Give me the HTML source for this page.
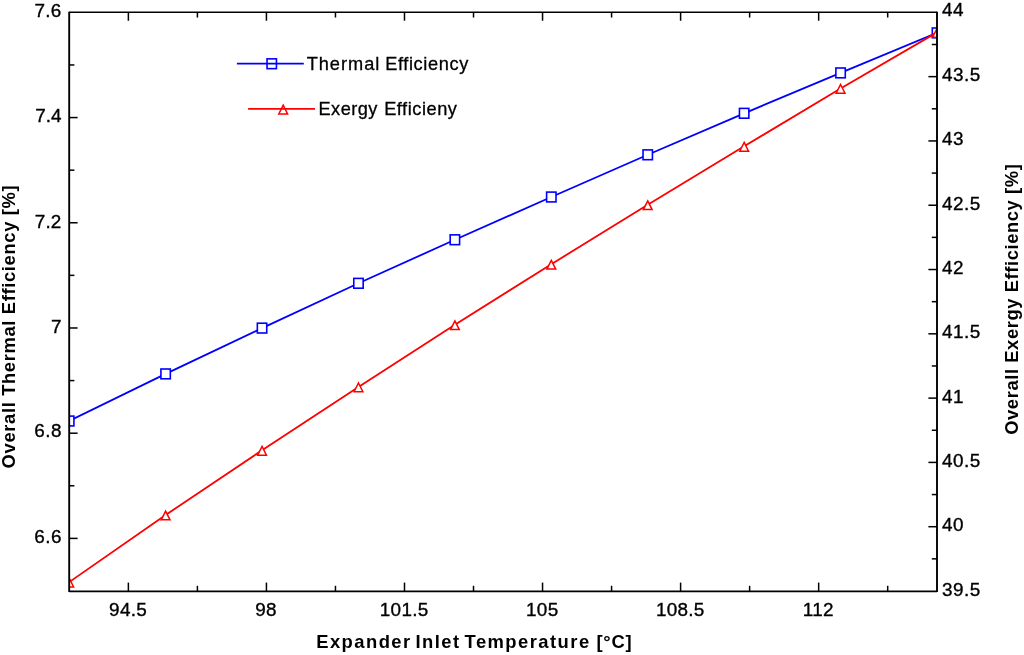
<!DOCTYPE html>
<html><head><meta charset="utf-8"><title>Efficiency chart</title>
<style>
html,body{margin:0;padding:0;background:#fff;}
body{width:1024px;height:655px;overflow:hidden;}
svg{display:block;}
text{font-family:"Liberation Sans",sans-serif;fill:#000;}
.tk{font-size:18.9px;stroke:#000;stroke-width:0.35px;}
.ax{font-size:18.4px;font-weight:bold;}
.lg{font-size:18.2px;stroke:#000;stroke-width:0.3px;}
</style></head><body>
<svg width="1024" height="655" viewBox="0 0 1024 655">
<rect width="1024" height="655" fill="#fff"/>
<defs><clipPath id="cp"><rect x="69.2" y="12.35" width="867.8" height="578.65"/></clipPath></defs>

<g clip-path="url(#cp)">
<polyline fill="none" stroke="#0000ff" stroke-width="1.8" points="69.20,421.00 165.62,373.90 262.04,328.10 358.47,283.30 454.89,239.75 551.31,197.00 647.73,154.80 744.16,113.30 840.58,72.90 937.00,32.90"/>
<rect x="64.50" y="416.10" width="9.4" height="9.8" fill="#fff" stroke="#0000ff" stroke-width="1.6"/>
<rect x="160.92" y="369.00" width="9.4" height="9.8" fill="#fff" stroke="#0000ff" stroke-width="1.6"/>
<rect x="257.34" y="323.20" width="9.4" height="9.8" fill="#fff" stroke="#0000ff" stroke-width="1.6"/>
<rect x="353.77" y="278.40" width="9.4" height="9.8" fill="#fff" stroke="#0000ff" stroke-width="1.6"/>
<rect x="450.19" y="234.85" width="9.4" height="9.8" fill="#fff" stroke="#0000ff" stroke-width="1.6"/>
<rect x="546.61" y="192.10" width="9.4" height="9.8" fill="#fff" stroke="#0000ff" stroke-width="1.6"/>
<rect x="643.03" y="149.90" width="9.4" height="9.8" fill="#fff" stroke="#0000ff" stroke-width="1.6"/>
<rect x="739.46" y="108.40" width="9.4" height="9.8" fill="#fff" stroke="#0000ff" stroke-width="1.6"/>
<rect x="835.88" y="68.00" width="9.4" height="9.8" fill="#fff" stroke="#0000ff" stroke-width="1.6"/>
<rect x="932.30" y="28.00" width="9.4" height="9.8" fill="#fff" stroke="#0000ff" stroke-width="1.6"/>
<polyline fill="none" stroke="#ff0000" stroke-width="1.8" points="69.20,582.10 165.62,515.00 262.04,450.30 358.47,386.90 454.89,324.70 551.31,264.20 647.73,204.70 744.16,146.30 840.58,88.40 937.00,32.40"/>
<path d="M69.20 578.20 L73.60 586.95 L64.80 586.95 Z" fill="#fff" stroke="#ff0000" stroke-width="1.5" stroke-linejoin="miter" stroke-miterlimit="10"/>
<path d="M165.62 511.10 L170.02 519.85 L161.22 519.85 Z" fill="#fff" stroke="#ff0000" stroke-width="1.5" stroke-linejoin="miter" stroke-miterlimit="10"/>
<path d="M262.04 446.40 L266.44 455.15 L257.64 455.15 Z" fill="#fff" stroke="#ff0000" stroke-width="1.5" stroke-linejoin="miter" stroke-miterlimit="10"/>
<path d="M358.47 383.00 L362.87 391.75 L354.07 391.75 Z" fill="#fff" stroke="#ff0000" stroke-width="1.5" stroke-linejoin="miter" stroke-miterlimit="10"/>
<path d="M454.89 320.80 L459.29 329.55 L450.49 329.55 Z" fill="#fff" stroke="#ff0000" stroke-width="1.5" stroke-linejoin="miter" stroke-miterlimit="10"/>
<path d="M551.31 260.30 L555.71 269.05 L546.91 269.05 Z" fill="#fff" stroke="#ff0000" stroke-width="1.5" stroke-linejoin="miter" stroke-miterlimit="10"/>
<path d="M647.73 200.80 L652.13 209.55 L643.33 209.55 Z" fill="#fff" stroke="#ff0000" stroke-width="1.5" stroke-linejoin="miter" stroke-miterlimit="10"/>
<path d="M744.16 142.40 L748.56 151.15 L739.76 151.15 Z" fill="#fff" stroke="#ff0000" stroke-width="1.5" stroke-linejoin="miter" stroke-miterlimit="10"/>
<path d="M840.58 84.50 L844.98 93.25 L836.18 93.25 Z" fill="#fff" stroke="#ff0000" stroke-width="1.5" stroke-linejoin="miter" stroke-miterlimit="10"/>
<path d="M937.00 28.50 L941.40 37.25 L932.60 37.25 Z" fill="#fff" stroke="#ff0000" stroke-width="1.5" stroke-linejoin="miter" stroke-miterlimit="10"/>
</g>
<g stroke="#000" fill="none">
<line x1="69.2" y1="11.65" x2="69.2" y2="591.9" stroke-width="1.9"/>
<line x1="937" y1="11.65" x2="937" y2="591.9" stroke-width="1.9"/>
<line x1="69.2" y1="12.35" x2="937" y2="12.35" stroke-width="1.5"/>
<line x1="69.2" y1="591.3" x2="937" y2="591.3" stroke-width="1.7"/>
<line x1="128.37" y1="591" x2="128.37" y2="582.6" stroke-width="1.5"/>
<line x1="128.37" y1="12.35" x2="128.37" y2="20.75" stroke-width="1.5"/>
<line x1="197.40" y1="591" x2="197.40" y2="585.8" stroke-width="1.5"/>
<line x1="197.40" y1="12.35" x2="197.40" y2="17.55" stroke-width="1.5"/>
<line x1="266.43" y1="591" x2="266.43" y2="582.6" stroke-width="1.5"/>
<line x1="266.43" y1="12.35" x2="266.43" y2="20.75" stroke-width="1.5"/>
<line x1="335.46" y1="591" x2="335.46" y2="585.8" stroke-width="1.5"/>
<line x1="335.46" y1="12.35" x2="335.46" y2="17.55" stroke-width="1.5"/>
<line x1="404.49" y1="591" x2="404.49" y2="582.6" stroke-width="1.5"/>
<line x1="404.49" y1="12.35" x2="404.49" y2="20.75" stroke-width="1.5"/>
<line x1="473.52" y1="591" x2="473.52" y2="585.8" stroke-width="1.5"/>
<line x1="473.52" y1="12.35" x2="473.52" y2="17.55" stroke-width="1.5"/>
<line x1="542.55" y1="591" x2="542.55" y2="582.6" stroke-width="1.5"/>
<line x1="542.55" y1="12.35" x2="542.55" y2="20.75" stroke-width="1.5"/>
<line x1="611.58" y1="591" x2="611.58" y2="585.8" stroke-width="1.5"/>
<line x1="611.58" y1="12.35" x2="611.58" y2="17.55" stroke-width="1.5"/>
<line x1="680.60" y1="591" x2="680.60" y2="582.6" stroke-width="1.5"/>
<line x1="680.60" y1="12.35" x2="680.60" y2="20.75" stroke-width="1.5"/>
<line x1="749.63" y1="591" x2="749.63" y2="585.8" stroke-width="1.5"/>
<line x1="749.63" y1="12.35" x2="749.63" y2="17.55" stroke-width="1.5"/>
<line x1="818.66" y1="591" x2="818.66" y2="582.6" stroke-width="1.5"/>
<line x1="818.66" y1="12.35" x2="818.66" y2="20.75" stroke-width="1.5"/>
<line x1="887.69" y1="591" x2="887.69" y2="585.8" stroke-width="1.5"/>
<line x1="887.69" y1="12.35" x2="887.69" y2="17.55" stroke-width="1.5"/>
<line x1="69.2" y1="117.56" x2="77.6" y2="117.56" stroke-width="1.5"/>
<line x1="69.2" y1="222.77" x2="77.6" y2="222.77" stroke-width="1.5"/>
<line x1="69.2" y1="327.98" x2="77.6" y2="327.98" stroke-width="1.5"/>
<line x1="69.2" y1="433.19" x2="77.6" y2="433.19" stroke-width="1.5"/>
<line x1="69.2" y1="538.40" x2="77.6" y2="538.40" stroke-width="1.5"/>
<line x1="69.2" y1="64.95" x2="74.4" y2="64.95" stroke-width="1.5"/>
<line x1="69.2" y1="170.16" x2="74.4" y2="170.16" stroke-width="1.5"/>
<line x1="69.2" y1="275.37" x2="74.4" y2="275.37" stroke-width="1.5"/>
<line x1="69.2" y1="380.58" x2="74.4" y2="380.58" stroke-width="1.5"/>
<line x1="69.2" y1="485.79" x2="74.4" y2="485.79" stroke-width="1.5"/>
<line x1="937" y1="76.64" x2="928.4" y2="76.64" stroke-width="1.5"/>
<line x1="937" y1="140.94" x2="928.4" y2="140.94" stroke-width="1.5"/>
<line x1="937" y1="205.23" x2="928.4" y2="205.23" stroke-width="1.5"/>
<line x1="937" y1="269.53" x2="928.4" y2="269.53" stroke-width="1.5"/>
<line x1="937" y1="333.82" x2="928.4" y2="333.82" stroke-width="1.5"/>
<line x1="937" y1="398.12" x2="928.4" y2="398.12" stroke-width="1.5"/>
<line x1="937" y1="462.41" x2="928.4" y2="462.41" stroke-width="1.5"/>
<line x1="937" y1="526.71" x2="928.4" y2="526.71" stroke-width="1.5"/>
<line x1="937" y1="44.50" x2="931.8" y2="44.50" stroke-width="1.5"/>
<line x1="937" y1="108.79" x2="931.8" y2="108.79" stroke-width="1.5"/>
<line x1="937" y1="173.09" x2="931.8" y2="173.09" stroke-width="1.5"/>
<line x1="937" y1="237.38" x2="931.8" y2="237.38" stroke-width="1.5"/>
<line x1="937" y1="301.68" x2="931.8" y2="301.68" stroke-width="1.5"/>
<line x1="937" y1="365.97" x2="931.8" y2="365.97" stroke-width="1.5"/>
<line x1="937" y1="430.26" x2="931.8" y2="430.26" stroke-width="1.5"/>
<line x1="937" y1="494.56" x2="931.8" y2="494.56" stroke-width="1.5"/>
<line x1="937" y1="558.85" x2="931.8" y2="558.85" stroke-width="1.5"/>
</g>
<text class="tk" x="61.70" y="16.50" text-anchor="end" style="letter-spacing:0.3px">7.6</text>
<text class="tk" x="61.40" y="121.96" text-anchor="end" style="letter-spacing:0px">7.4</text>
<text class="tk" x="61.60" y="227.67" text-anchor="end" style="letter-spacing:0.2px">7.2</text>
<text class="tk" x="61.40" y="332.98" text-anchor="end" style="letter-spacing:0px">7</text>
<text class="tk" x="61.90" y="437.39" text-anchor="end" style="letter-spacing:0.5px">6.8</text>
<text class="tk" x="61.90" y="542.90" text-anchor="end" style="letter-spacing:0.5px">6.6</text>
<text class="tk" x="941.9" y="16.40" style="letter-spacing:0.55px">44</text>
<text class="tk" x="941.9" y="81.14" style="letter-spacing:0.55px">43.5</text>
<text class="tk" x="941.9" y="145.44" style="letter-spacing:0.55px">43</text>
<text class="tk" x="941.9" y="209.73" style="letter-spacing:0.55px">42.5</text>
<text class="tk" x="941.9" y="274.03" style="letter-spacing:0.55px">42</text>
<text class="tk" x="941.9" y="338.32" style="letter-spacing:0.55px">41.5</text>
<text class="tk" x="941.9" y="402.62" style="letter-spacing:0.55px">41</text>
<text class="tk" x="941.9" y="466.91" style="letter-spacing:0.55px">40.5</text>
<text class="tk" x="941.9" y="531.21" style="letter-spacing:0.55px">40</text>
<text class="tk" x="941.9" y="595.50" style="letter-spacing:0.55px">39.5</text>
<text class="tk" x="128.07" y="616.4" text-anchor="middle" style="letter-spacing:0.3px">94.5</text>
<text class="tk" x="266.13" y="616.4" text-anchor="middle" style="letter-spacing:0.3px">98</text>
<text class="tk" x="404.19" y="616.4" text-anchor="middle" style="letter-spacing:0.3px">101.5</text>
<text class="tk" x="542.25" y="616.4" text-anchor="middle" style="letter-spacing:0.3px">105</text>
<text class="tk" x="680.30" y="616.4" text-anchor="middle" style="letter-spacing:0.3px">108.5</text>
<text class="tk" x="818.36" y="616.4" text-anchor="middle" style="letter-spacing:0.3px">112</text>
<text class="ax" x="316.2" y="648.2" style="letter-spacing:1.45px;word-spacing:-2.6px">Expander Inlet Temperature <tspan dx="1.9" style="letter-spacing:0.8px">[°C]</tspan></text>
<text class="ax" transform="translate(15.1,468.4) rotate(-90)" textLength="283" lengthAdjust="spacing">Overall Thermal Efficiency [%]</text>
<text class="ax" transform="translate(1017.8,434.8) rotate(-90)" textLength="270.6" lengthAdjust="spacing">Overall Exergy Efficiency [%]</text>
<rect x="267.05" y="58.85" width="9.4" height="9.8" fill="none" stroke="#0000ff" stroke-width="1.6"/>
<line x1="236.9" y1="63.6" x2="303.8" y2="63.6" stroke="#0000ff" stroke-width="1.8"/>
<text class="lg" y="69.6"><tspan x="306.65" style="letter-spacing:0.99px">Thermal</tspan> <tspan x="385.2" style="letter-spacing:0.62px">Efficiency</tspan></text>
<path d="M283.20 105.20 L287.60 113.95 L278.80 113.95 Z" fill="none" stroke="#ff0000" stroke-width="1.5" stroke-linejoin="miter" stroke-miterlimit="10"/>
<line x1="248.1" y1="108.9" x2="315" y2="108.9" stroke="#ff0000" stroke-width="1.8"/>
<text class="lg" y="115.2"><tspan x="318.5" style="letter-spacing:0.47px">Exergy</tspan> <tspan x="384.15" style="letter-spacing:0.55px">Efficieny</tspan></text>
</svg></body></html>
